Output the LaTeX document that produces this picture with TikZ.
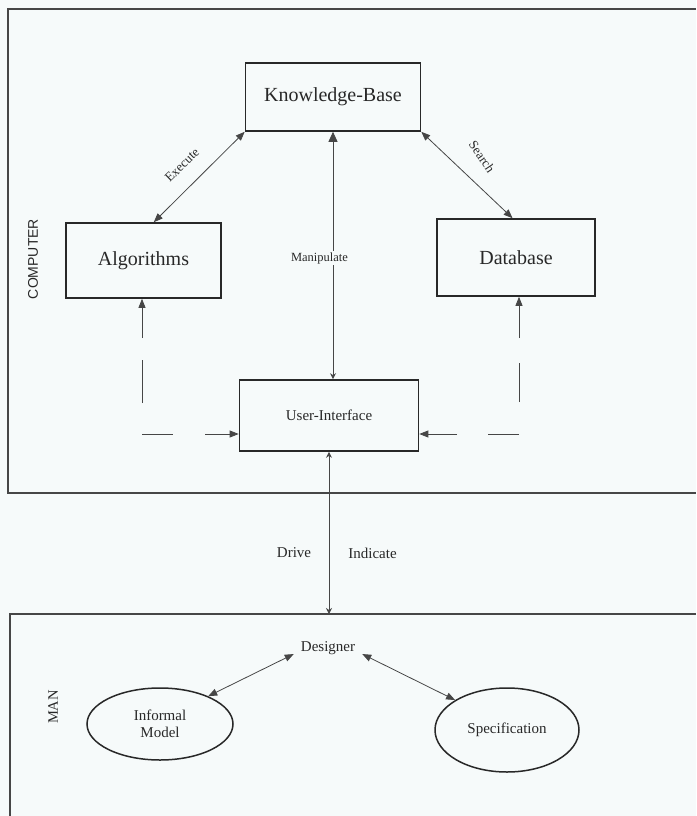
\documentclass[tikz,border=0pt]{standalone}
\usepackage{fontspec}
\setmainfont{Liberation Serif}
\newfontfamily\sansf{Liberation Sans}
\usetikzlibrary{arrows.meta,shapes.geometric}
\definecolor{bgc}{RGB}{246,250,250}
\definecolor{ink}{RGB}{40,40,40}
\definecolor{lnc}{RGB}{70,70,70}
\tikzset{
  bigbox/.style={draw=ink,line width=1.6pt,rectangle,inner sep=0pt,text=ink,font=\fontsize{20}{22}\selectfont},
  frameline/.style={draw=lnc,line width=1.4pt},
  conn/.style={draw=lnc,line width=0.8pt},
  tip/.style={-{Triangle[length=9pt,width=7pt]}},
  dtip/.style={{Triangle[length=9pt,width=7pt]}-{Triangle[length=9pt,width=7pt]}},
  smalltxt/.style={font=\fontsize{15}{17}\selectfont,text=ink},
  oval/.style={draw=ink,line width=1.5pt,ellipse,inner sep=0pt,text=ink,font=\fontsize{15}{17}\selectfont,align=center},
}
\begin{document}
\begin{tikzpicture}[x=1pt,y=-1pt]
\fill[bgc] (0,0) rectangle (696,816);
\useasboundingbox (0,0) rectangle (696,816);
% frames
\draw[frameline] (696,9) -- (8,9) -- (8,493) -- (696,493);
\draw[frameline] (696,614) -- (10,614) -- (10,816);
\coordinate (mantop) at (330,614);
% labels of regions
\node[font=\sansf\fontsize{14}{16}\selectfont,text=ink,rotate=90] (comp) at (33,259) {COMPUTER};
\node[font=\fontsize{14.5}{16}\selectfont,text=ink,rotate=90] (man) at (53,707) {MAN};
% boxes
\node[bigbox,minimum width=175pt,minimum height=68pt] (kb) at (333,97) {Knowledge-Base};
\node[bigbox,minimum width=155pt,minimum height=75pt] (alg) at (143.5,260.5) {Algorithms};
\node[bigbox,minimum width=158pt,minimum height=77pt] (db) at (516,257.5) {Database};
\node[bigbox,minimum width=179pt,minimum height=71pt,font=\fontsize{15}{17}\selectfont] (ui) at (329,415.5) {User-Interface};
% execute / search
\draw[conn,dtip] (alg.75) -- (kb.south west);
\draw[conn,dtip] (kb.south east) -- (db.95);
\node[font=\fontsize{13}{15}\selectfont,text=ink,rotate=44,inner sep=1pt] (exe) at (182,165) {Execute};
\node[font=\fontsize{13}{15}\selectfont,text=ink,rotate=-56,inner sep=1pt] (sea) at (482,157) {Search};
% manipulate
\draw[conn,{Triangle[length=10pt,width=9pt]}-{Stealth[length=6pt,width=6pt]}] (kb.south) -- (kb.south |- ui.north);
\node[font=\fontsize{12.5}{14}\selectfont,text=ink,fill=bgc,inner sep=1pt] (manip) at (319.5,258) {Manipulate};
% dashed feeds
\coordinate (cl) at (142,434);
\coordinate (clv) at (142,403);
\coordinate (cr) at (519,434);
\coordinate (crv) at (519,402);
\draw[conn,tip,dash pattern=on 31pt off 32pt] (cl) -- (cl -| ui.west);
\draw[conn,tip,dash pattern=on 43pt off 22pt] (clv) -- (clv |- alg.south);
\draw[conn,tip,dash pattern=on 31pt off 31pt] (cr) -- (cr -| ui.east);
\draw[conn,tip,dash pattern=on 39pt off 25pt] (crv) -- (crv |- db.south);
% drive / indicate
\draw[conn,{Stealth[length=6pt,width=6pt]}-{Stealth[length=6pt,width=6pt]}] (ui.south) -- (ui.south |- mantop);
\node[smalltxt] (drive) at (294,553) {Drive};
\node[smalltxt] (ind) at (372.5,553) {Indicate};
% man side
\node[smalltxt,inner sep=7pt] (des) at (328,648) {Designer};
\node[oval,minimum width=146pt,minimum height=72pt] (im) at (160,724) {Informal\\Model};
\node[oval,minimum width=144pt,minimum height=84pt] (spec) at (507,730) {Specification};
\draw[conn,dtip] (des.190) -- (im.30);
\draw[conn,dtip] (des.350) -- (spec.150);
\end{tikzpicture}
\end{document}
